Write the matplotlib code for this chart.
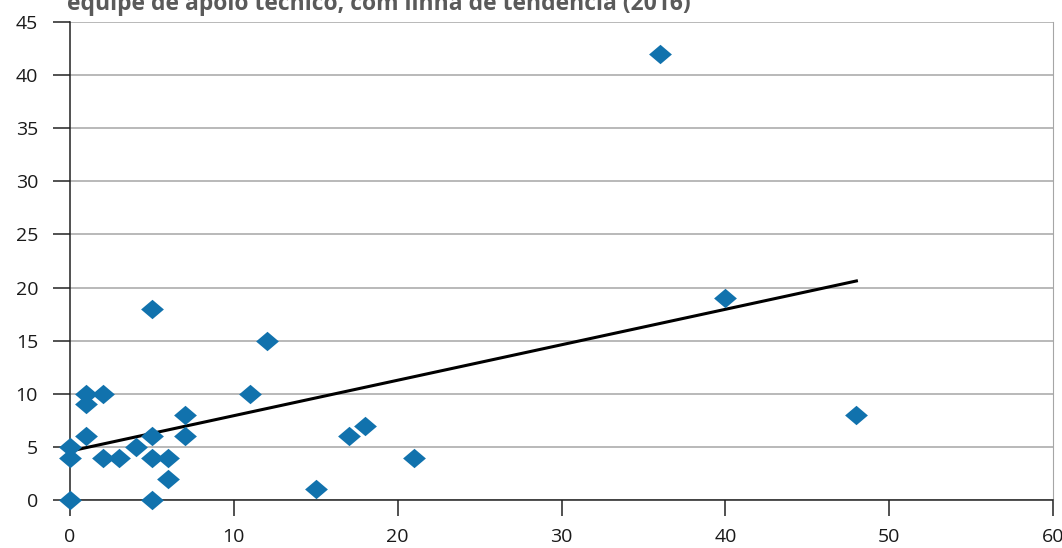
import numpy as np
import matplotlib.pyplot as plt
from matplotlib.path import Path

plt.rcParams['font.family'] = ['Open Sans', 'DejaVu Sans']

# equipe de apoio técnico (x) vs. valor (y)
equipe_x = [0, 0, 0, 1, 1, 1, 2, 2, 3, 4, 5, 5, 5, 5, 6, 6, 7, 7,
            11, 12, 15, 17, 18, 21, 36, 40, 48]
valor_y = [0, 4, 5, 10, 9, 6, 10, 4, 4, 5, 18, 6, 4, 0, 4, 2, 8, 6,
           10, 15, 1, 6, 7, 4, 42, 19, 8]
x_ticks = [0, 10, 20, 30, 40, 50, 60]
y_ticks = [0, 5, 10, 15, 20, 25, 30, 35, 40, 45]
titulo = 'equipe de apoio técnico, com linha de tendência (2016)'

fig = plt.figure(figsize=(10.62, 5.48), dpi=100)
ax = fig.add_axes([70 / 1062, 1 - 500 / 548, 983 / 1062, 478 / 548])

# linha de tendência (mínimos quadrados)
a, b = np.polyfit(equipe_x, valor_y, 1)
xt = np.array([min(equipe_x), max(equipe_x)])
ax.plot(xt, a * xt + b, color='black', lw=2.2, zorder=3)

losango = Path([(-1, 0), (0, 0.85), (1, 0), (0, -0.85), (-1, 0)],
               [Path.MOVETO, Path.LINETO, Path.LINETO, Path.LINETO, Path.CLOSEPOLY])
ax.scatter(equipe_x, valor_y, marker=losango, s=270, color='#1172ad',
           linewidths=0, zorder=4, clip_on=False)

ax.set_xlim(0, 60)
ax.set_ylim(0, 45)
ax.set_xticks(x_ticks)
ax.set_yticks(y_ticks)
ax.yaxis.grid(True, color='#a6a6a6', lw=1.1)
ax.set_axisbelow(True)

ax.spines['top'].set_visible(False)
ax.spines['right'].set_color('#a6a6a6')
ax.spines['left'].set_color('#222222')
ax.spines['bottom'].set_color('#222222')
ax.spines['left'].set_linewidth(1.1)
ax.spines['bottom'].set_linewidth(1.1)

ax.tick_params(axis='y', length=12, width=1.1, color='#222222', pad=11,
               labelsize=14, labelcolor='#1a1a1a')
ax.tick_params(axis='x', length=11.5, width=1.1, color='#222222', pad=9,
               labelsize=14, labelcolor='#1a1a1a')
for lbl in ax.get_xticklabels() + ax.get_yticklabels():
    lbl.set_fontweight('medium')

fig.text(67 / 1062, 1 - 10 / 548, titulo, fontsize=16.5, fontweight='bold',
         color='#5a5a5a', ha='left', va='baseline')

fig.savefig('out.png', dpi=100)
